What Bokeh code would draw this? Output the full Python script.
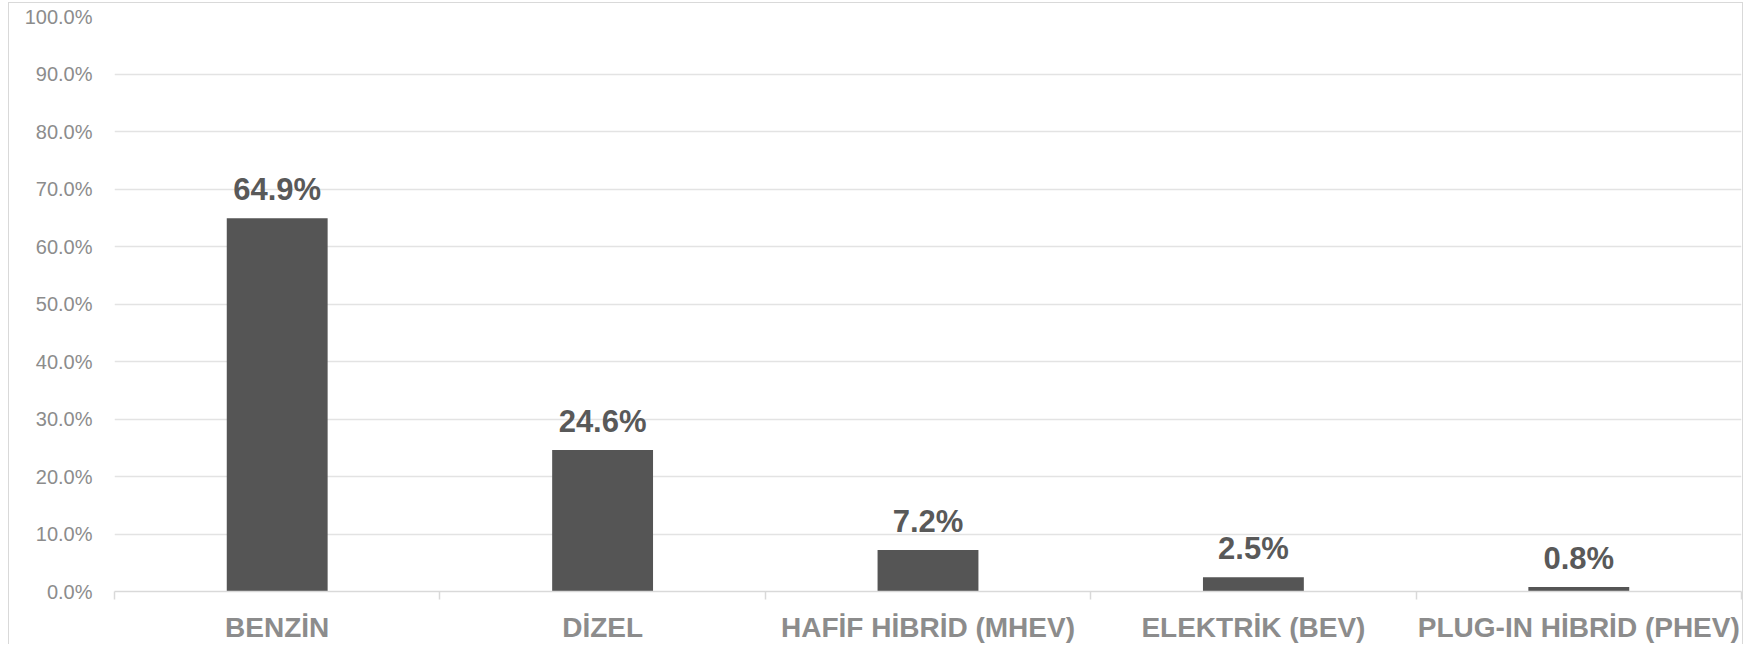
from bokeh.plotting import figure
from bokeh.models import ColumnDataSource, FixedTicker, NumeralTickFormatter, LabelSet, Range1d
from bokeh.core.properties import value
from bokeh.embed import file_html
from bokeh.resources import INLINE

categories = ["BENZİN", "DİZEL", "HAFİF HİBRİD (MHEV)", "ELEKTRİK (BEV)", "PLUG-IN HİBRİD (PHEV)"]
shares = [0.649, 0.246, 0.072, 0.025, 0.008]
y_ticks = [0.0, 0.1, 0.2, 0.3, 0.4, 0.5, 0.6, 0.7, 0.8, 0.9, 1.0]

n = len(categories)
centers = [i + 0.5 for i in range(n)]
labels = [f"{v * 100:.1f}%" for v in shares]

src = ColumnDataSource(dict(x=centers, top=shares, label=labels))

FONT = "Liberation Sans"

p = figure(width=1735, height=642, output_backend="svg", toolbar_location=None,
           x_range=Range1d(0, n), y_range=Range1d(0, 1.0),
           min_border_left=105, min_border_right=3, min_border_top=13, min_border_bottom=48)
p.styles = {"border-left": "1px solid #d9d9d9", "border-top": "1px solid #d9d9d9",
            "border-right": "1px solid #d9d9d9", "margin-left": "8px", "margin-top": "2px"}
p.outline_line_color = None
p.background_fill_color = "white"
p.border_fill_color = "white"

p.vbar(x="x", top="top", bottom=0, width=0.31, source=src, fill_color="#555555", line_color=None)

p.add_layout(LabelSet(x="x", y="top", text="label", source=src, text_align="center",
                      text_baseline="alphabetic", y_offset=18, text_font=value(FONT),
                      text_font_size="31px", text_font_style="bold", text_color="#595959"))

# y axis
p.yaxis.ticker = FixedTicker(ticks=y_ticks)
p.yaxis.formatter = NumeralTickFormatter(format="0.0%")
p.yaxis.axis_line_color = None
p.yaxis.major_tick_line_color = None
p.yaxis.major_tick_out = 0
p.yaxis.major_tick_in = 0
p.yaxis.minor_tick_line_color = None
p.yaxis.major_label_text_font = FONT
p.yaxis.major_label_text_font_size = "20px"
p.yaxis.major_label_text_color = "#8c8c8c"
p.yaxis.major_label_standoff = 22
p.ygrid.grid_line_color = "#e3e3e3"
p.ygrid.grid_line_width = 1.5

# x axis
p.xaxis.ticker = FixedTicker(ticks=centers, minor_ticks=list(range(n + 1)))
p.xaxis.major_label_overrides = {c: name for c, name in zip(centers, categories)}
p.xaxis.axis_line_color = "#d9d9d9"
p.xaxis.axis_line_width = 1.5
p.xaxis.major_tick_line_color = None
p.xaxis.major_tick_out = 0
p.xaxis.major_tick_in = 0
p.xaxis.minor_tick_line_color = "#d9d9d9"
p.xaxis.minor_tick_line_width = 1.5
p.xaxis.minor_tick_out = 8
p.xaxis.minor_tick_in = 0
p.xaxis.major_label_text_font = FONT
p.xaxis.major_label_text_font_size = "28px"
p.xaxis.major_label_text_font_style = "bold"
p.xaxis.major_label_text_color = "#8c8c8c"
p.xaxis.major_label_standoff = 12
p.xgrid.visible = False

open("out.html", "w").write(file_html(p, INLINE))
